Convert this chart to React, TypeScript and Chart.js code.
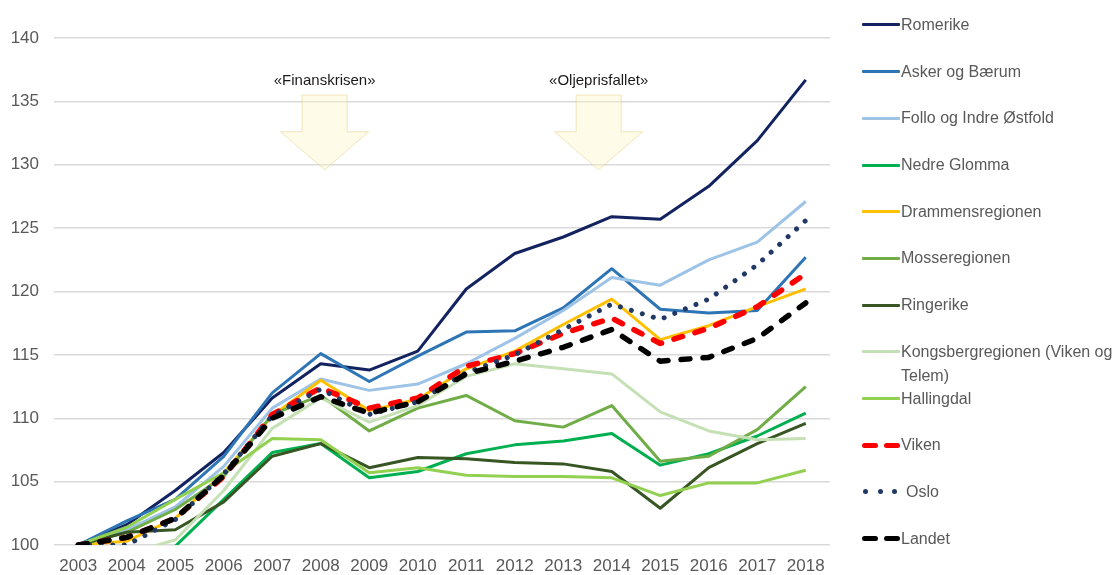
import React, { useEffect, useRef } from "react";
import { Chart, registerables } from "chart.js";

Chart.register(...registerables);

const years = ["2003", "2004", "2005", "2006", "2007", "2008", "2009", "2010", "2011", "2012", "2013", "2014", "2015", "2016", "2017", "2018"];

const romerike = [100, 101.6, 104.3, 107.3, 111.6, 114.3, 113.8, 115.3, 120.2, 123.0, 124.3, 125.9, 125.7, 128.3, 131.9, 136.7];
const askerBaerum = [100, 101.9, 103.6, 107.0, 112.0, 115.1, 112.9, 114.9, 116.8, 116.9, 118.7, 121.8, 118.6, 118.3, 118.5, 122.7];
const folloIndreOstfold = [100, 101.2, 103.0, 106.2, 110.8, 113.1, 112.2, 112.7, 114.3, 116.3, 118.5, 121.1, 120.5, 122.5, 123.9, 127.1];
const nedreGlomma = [100, 98.6, 99.9, 103.6, 107.3, 108.0, 105.3, 105.8, 107.2, 107.9, 108.2, 108.8, 106.3, 107.2, 108.6, 110.4];
const drammensregionen = [100, 100.3, 102.1, 105.7, 110.2, 113.0, 110.6, 111.5, 113.9, 115.3, 117.4, 119.4, 116.2, 117.3, 118.8, 120.2];
const mosseregionen = [100, 101.0, 102.8, 105.4, 110.3, 111.8, 109.0, 110.8, 111.8, 109.8, 109.3, 111.0, 106.6, 107.0, 109.1, 112.5];
const ringerike = [100, 101.0, 101.2, 103.4, 107.0, 108.0, 106.1, 106.9, 106.8, 106.5, 106.4, 105.8, 102.9, 106.1, 108.0, 109.6];
const kongsbergregionen = [100, 99.3, 100.4, 104.3, 109.2, 111.6, 109.7, 111.0, 113.3, 114.3, 113.9, 113.5, 110.5, 109.0, 108.3, 108.4];
const hallingdal = [100, 101.4, 103.6, 105.7, 108.4, 108.3, 105.7, 106.1, 105.5, 105.4, 105.4, 105.3, 103.9, 104.9, 104.9, 105.9];
const viken = [100, 100.6, 102.1, 105.4, 110.3, 112.4, 110.8, 111.6, 114.1, 115.1, 116.7, 117.9, 115.9, 117.1, 118.8, 121.4];
const oslo = [100, 100.0, 102.0, 105.6, 110.2, 112.3, 110.3, 111.3, 113.6, 115.0, 117.0, 119.0, 117.8, 119.4, 122.1, 125.6];
const landet = [100, 100.6, 102.1, 105.5, 110.0, 111.7, 110.4, 111.3, 113.5, 114.5, 115.6, 117.0, 114.5, 114.8, 116.3, 119.1];

const yTicks = [100, 105, 110, 115, 120, 125, 130, 135, 140];

const eventLabels = ["«Finanskrisen»", "«Oljeprisfallet»"];
const eventPositions = [5.08, 10.73];

type Style = "solid" | "dash" | "dot";
const series: { name: string; data: number[]; color: string; style: Style }[] = [
  { name: "Romerike", data: romerike, color: "#13235F", style: "solid" },
  { name: "Asker og Bærum", data: askerBaerum, color: "#2E75B6", style: "solid" },
  { name: "Follo og Indre Østfold", data: folloIndreOstfold, color: "#9DC3E6", style: "solid" },
  { name: "Nedre Glomma", data: nedreGlomma, color: "#00B050", style: "solid" },
  { name: "Drammensregionen", data: drammensregionen, color: "#FFC000", style: "solid" },
  { name: "Mosseregionen", data: mosseregionen, color: "#70AD47", style: "solid" },
  { name: "Ringerike", data: ringerike, color: "#375623", style: "solid" },
  { name: "Kongsbergregionen (Viken og Telem)", data: kongsbergregionen, color: "#C5E0B4", style: "solid" },
  { name: "Hallingdal", data: hallingdal, color: "#92D050", style: "solid" },
  { name: "Viken", data: viken, color: "#FF0000", style: "dash" },
  { name: "Oslo", data: oslo, color: "#203864", style: "dot" },
  { name: "Landet", data: landet, color: "#000000", style: "dash" },
];

const FONT = '"Liberation Sans", Arial, sans-serif';

const arrowPlugin = {
  id: "eventArrows",
  beforeDatasetsDraw(chart: any) {
    const { ctx, scales } = chart;
    const x = scales.x;
    const y = scales.y;
    ctx.save();
    eventLabels.forEach((label, i) => {
      const cx = x.getPixelForValue(eventPositions[i]);
      const textY = y.getPixelForValue(136.6);
      const shaftTop = y.getPixelForValue(135.5);
      const headTop = y.getPixelForValue(132.6);
      const tip = y.getPixelForValue(129.6);
      const sw = 22.5;
      const hw = 44;
      ctx.beginPath();
      ctx.moveTo(cx - sw, shaftTop);
      ctx.lineTo(cx + sw, shaftTop);
      ctx.lineTo(cx + sw, headTop);
      ctx.lineTo(cx + hw, headTop);
      ctx.lineTo(cx, tip);
      ctx.lineTo(cx - hw, headTop);
      ctx.lineTo(cx - sw, headTop);
      ctx.closePath();
      ctx.fillStyle = "rgba(255, 245, 200, 0.4)";
      ctx.fill();
      ctx.strokeStyle = "rgba(225, 210, 140, 0.55)";
      ctx.lineWidth = 1;
      ctx.stroke();
      ctx.fillStyle = "#1a1a1a";
      ctx.font = `15px ${FONT}`;
      ctx.textAlign = "center";
      ctx.textBaseline = "middle";
      ctx.fillText(label, cx, textY);
    });
    ctx.restore();
  },
};

function LegendSample({ color, style }: { color: string; style: Style }) {
  if (style === "solid") {
    return <div style={{ width: 38, height: 3, background: color, borderRadius: 1 }} />;
  }
  if (style === "dash") {
    return (
      <div style={{ display: "flex", gap: 6, width: 38 }}>
        <div style={{ width: 16, height: 5, background: color, borderRadius: 3 }} />
        <div style={{ width: 16, height: 5, background: color, borderRadius: 3 }} />
      </div>
    );
  }
  return (
    <div style={{ display: "flex", gap: 9.5, width: 38, paddingLeft: 1 }}>
      <div style={{ width: 5, height: 5, background: color, borderRadius: 3 }} />
      <div style={{ width: 5, height: 5, background: color, borderRadius: 3 }} />
      <div style={{ width: 5, height: 5, background: color, borderRadius: 3 }} />
    </div>
  );
}

export default function App() {
  const canvasRef = useRef<HTMLCanvasElement | null>(null);

  useEffect(() => {
    if (!canvasRef.current) return;
    Chart.defaults.font.family = FONT;
    const n = series.length;
    const chart = new Chart(canvasRef.current, {
      type: "line",
      data: {
        labels: years,
        datasets: series.map((s, i) => ({
          label: s.name,
          data: s.data,
          borderColor: s.color,
          backgroundColor: s.color,
          borderWidth: s.style === "solid" ? 3 : s.style === "dash" ? 5.5 : 5,
          borderDash: s.style === "dash" ? [9, 13] : s.style === "dot" ? [0.001, 11.5] : [],
          borderCapStyle: s.style === "solid" ? "butt" : "round",
          borderJoinStyle: "round",
          pointRadius: 0,
          pointHoverRadius: 0,
          tension: 0,
          fill: false,
          order: n - i,
        })),
      },
      options: {
        responsive: false,
        animation: false,
        devicePixelRatio: 1,
        layout: { padding: { top: 38, right: 285, left: 0, bottom: 0 } },
        plugins: {
          legend: { display: false },
          tooltip: { enabled: false },
        },
        scales: {
          x: {
            offset: true,
            grid: { display: false, drawTicks: false },
            border: { display: false },
            ticks: {
              color: "#595959",
              font: { size: 17, family: FONT },
              padding: 11,
              autoSkip: false,
              maxRotation: 0,
            },
            afterFit(scale: any) {
              scale.height = 30;
            },
          },
          y: {
            min: 100,
            max: 140,
            afterBuildTicks(scale: any) {
              scale.ticks = yTicks.map((v) => ({ value: v }));
            },
            grid: { color: "#D9D9D9", lineWidth: 1.5, drawTicks: false },
            border: { display: false },
            ticks: {
              color: "#595959",
              font: { size: 17, family: FONT },
              padding: 15,
            },
            afterFit(scale: any) {
              scale.width = 54;
            },
          },
        },
      },
      plugins: [arrowPlugin],
    } as any);
    return () => chart.destroy();
  }, []);

  return (
    <div style={{ position: "fixed", left: 0, top: 0, width: 1115, height: 575, background: "#fff", overflow: "hidden" }}>
      <canvas ref={canvasRef} width={1115} height={575} style={{ display: "block", width: 1115, height: 575 }} />
      {series.map((s, i) => (
        <div
          key={s.name}
          style={{
            position: "absolute",
            left: 862,
            top: 24.9 + i * 46.7 - 12,
            width: 253,
            display: "flex",
            alignItems: "flex-start",
            fontFamily: FONT,
            fontSize: 16,
            lineHeight: "24px",
            color: "#595959",
          }}
        >
          <div style={{ height: 24, display: "flex", alignItems: "center", width: 38, flex: "0 0 38px" }}>
            <LegendSample color={s.color} style={s.style} />
          </div>
          <div style={{ paddingLeft: s.style === "dot" ? 6 : 1, width: 212 }}>{s.name}</div>
        </div>
      ))}
    </div>
  );
}
